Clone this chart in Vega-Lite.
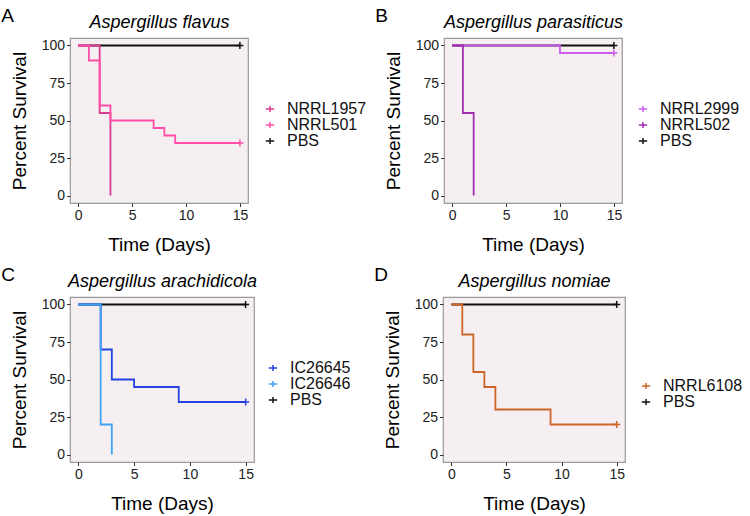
{
  "$schema": "https://vega.github.io/schema/vega-lite/v6.json",
  "padding": {"left": 0, "top": 6, "right": 2, "bottom": 2},
  "data": {
    "values": [
      {"panel": "A", "group": "PBS", "t": 0, "s": 100, "censored": false},
      {"panel": "A", "group": "PBS", "t": 15, "s": 100, "censored": true},
      {"panel": "A", "group": "NRRL1957", "t": 0, "s": 100, "censored": false},
      {"panel": "A", "group": "NRRL1957", "t": 2, "s": 55, "censored": false},
      {"panel": "A", "group": "NRRL1957", "t": 3, "s": 0, "censored": false},
      {"panel": "A", "group": "NRRL501", "t": 0, "s": 100, "censored": false},
      {"panel": "A", "group": "NRRL501", "t": 1, "s": 90, "censored": false},
      {"panel": "A", "group": "NRRL501", "t": 2, "s": 60, "censored": false},
      {"panel": "A", "group": "NRRL501", "t": 3, "s": 50, "censored": false},
      {"panel": "A", "group": "NRRL501", "t": 7, "s": 45, "censored": false},
      {"panel": "A", "group": "NRRL501", "t": 8, "s": 40, "censored": false},
      {"panel": "A", "group": "NRRL501", "t": 9, "s": 35, "censored": false},
      {"panel": "A", "group": "NRRL501", "t": 15, "s": 35, "censored": true},
      {"panel": "B", "group": "PBS", "t": 0, "s": 100, "censored": false},
      {"panel": "B", "group": "PBS", "t": 15, "s": 100, "censored": true},
      {"panel": "B", "group": "NRRL2999", "t": 0, "s": 100, "censored": false},
      {"panel": "B", "group": "NRRL2999", "t": 10, "s": 95, "censored": false},
      {"panel": "B", "group": "NRRL2999", "t": 15, "s": 95, "censored": true},
      {"panel": "B", "group": "NRRL502", "t": 0, "s": 100, "censored": false},
      {"panel": "B", "group": "NRRL502", "t": 1, "s": 55, "censored": false},
      {"panel": "B", "group": "NRRL502", "t": 2, "s": 0, "censored": false},
      {"panel": "C", "group": "PBS", "t": 0, "s": 100, "censored": false},
      {"panel": "C", "group": "PBS", "t": 15, "s": 100, "censored": true},
      {"panel": "C", "group": "IC26645", "t": 0, "s": 100, "censored": false},
      {"panel": "C", "group": "IC26645", "t": 2, "s": 70, "censored": false},
      {"panel": "C", "group": "IC26645", "t": 3, "s": 50, "censored": false},
      {"panel": "C", "group": "IC26645", "t": 5, "s": 45, "censored": false},
      {"panel": "C", "group": "IC26645", "t": 9, "s": 35, "censored": false},
      {"panel": "C", "group": "IC26645", "t": 15, "s": 35, "censored": true},
      {"panel": "C", "group": "IC26646", "t": 0, "s": 100, "censored": false},
      {"panel": "C", "group": "IC26646", "t": 2, "s": 20, "censored": false},
      {"panel": "C", "group": "IC26646", "t": 3, "s": 0, "censored": false},
      {"panel": "D", "group": "PBS", "t": 0, "s": 100, "censored": false},
      {"panel": "D", "group": "PBS", "t": 15, "s": 100, "censored": true},
      {"panel": "D", "group": "NRRL6108", "t": 0, "s": 100, "censored": false},
      {"panel": "D", "group": "NRRL6108", "t": 1, "s": 80, "censored": false},
      {"panel": "D", "group": "NRRL6108", "t": 2, "s": 55, "censored": false},
      {"panel": "D", "group": "NRRL6108", "t": 3, "s": 45, "censored": false},
      {"panel": "D", "group": "NRRL6108", "t": 4, "s": 30, "censored": false},
      {"panel": "D", "group": "NRRL6108", "t": 9, "s": 20, "censored": false},
      {"panel": "D", "group": "NRRL6108", "t": 15, "s": 20, "censored": true}
    ]
  },
  "spacing": 9,
  "resolve": {"scale": {"color": "independent"}, "legend": {"color": "independent"}},
  "vconcat": [
    {
      "spacing": 6,
      "resolve": {"scale": {"color": "independent"}, "legend": {"color": "independent"}},
      "hconcat": [
        {
          "width": 178, "height": 165,
          "title": {"text": "A", "anchor": "start", "frame": "bounds", "fontSize": 19, "fontWeight": "normal", "fontStyle": "normal", "baseline": "alphabetic", "offset": -28, "dx": -9, "color": "#000"},
          "transform": [{"filter": "datum.panel === 'A'"}],
          "encoding": {
            "y": {"field": "s", "type": "quantitative", "title": "Percent Survival", "scale": {"domain": [-5, 105], "nice": false}, "axis": {"values": [0, 25, 50, 75, 100]}},
            "color": {"field": "group", "type": "nominal", "scale": {"domain": ["NRRL1957", "NRRL501", "PBS"], "range": ["#DC3C8F", "#FF4DA8", "#111111"]}, "legend": {"orient": "none", "legendX": 192, "legendY": 63}}
          },
          "layer": [
            {"mark": {"type": "line", "interpolate": "step-after", "strokeWidth": 1.8},
             "encoding": {"x": {"field": "t", "type": "quantitative", "title": "Time (Days)", "scale": {"domain": [-0.75, 15.75], "nice": false, "zero": false}, "axis": {"values": [0, 5, 10, 15], "orient": "bottom"}}}},
            {"transform": [{"filter": "datum.censored"}], "mark": {"type": "point", "shape": "M-1,0H1M0,-1V1", "size": 49, "filled": false, "strokeWidth": 1.5, "opacity": 1},
             "encoding": {"x": {"field": "t", "type": "quantitative", "title": "Aspergillus flavus", "scale": {"domain": [-0.75, 15.75], "nice": false, "zero": false}, "axis": {"orient": "top", "labels": false, "ticks": false, "domain": false, "titleFontStyle": "italic", "titleFontSize": 18, "titleBaseline": "alphabetic", "titlePadding": 11}}}}
          ]
        },
        {
          "width": 178, "height": 165,
          "title": {"text": "B", "anchor": "start", "frame": "bounds", "fontSize": 19, "fontWeight": "normal", "fontStyle": "normal", "baseline": "alphabetic", "offset": -28, "dx": -9, "color": "#000"},
          "transform": [{"filter": "datum.panel === 'B'"}],
          "encoding": {
            "y": {"field": "s", "type": "quantitative", "title": "Percent Survival", "scale": {"domain": [-5, 105], "nice": false}, "axis": {"values": [0, 25, 50, 75, 100]}},
            "color": {"field": "group", "type": "nominal", "scale": {"domain": ["NRRL2999", "NRRL502", "PBS"], "range": ["#CC5CF0", "#A02FB0", "#111111"]}, "legend": {"orient": "none", "legendX": 191, "legendY": 63}}
          },
          "layer": [
            {"mark": {"type": "line", "interpolate": "step-after", "strokeWidth": 1.8},
             "encoding": {"x": {"field": "t", "type": "quantitative", "title": "Time (Days)", "scale": {"domain": [-0.75, 15.75], "nice": false, "zero": false}, "axis": {"values": [0, 5, 10, 15], "orient": "bottom"}}}},
            {"transform": [{"filter": "datum.censored"}], "mark": {"type": "point", "shape": "M-1,0H1M0,-1V1", "size": 49, "filled": false, "strokeWidth": 1.5, "opacity": 1},
             "encoding": {"x": {"field": "t", "type": "quantitative", "title": "Aspergillus parasiticus", "scale": {"domain": [-0.75, 15.75], "nice": false, "zero": false}, "axis": {"orient": "top", "labels": false, "ticks": false, "domain": false, "titleFontStyle": "italic", "titleFontSize": 18, "titleBaseline": "alphabetic", "titlePadding": 11}}}}
          ]
        }
      ]
    },
    {
      "spacing": 21,
      "resolve": {"scale": {"color": "independent"}, "legend": {"color": "independent"}},
      "hconcat": [
        {
          "width": 184, "height": 165,
          "title": {"text": "C", "anchor": "start", "frame": "bounds", "fontSize": 19, "fontWeight": "normal", "fontStyle": "normal", "baseline": "alphabetic", "offset": -28, "dx": -9, "color": "#000"},
          "transform": [{"filter": "datum.panel === 'C'"}],
          "encoding": {
            "y": {"field": "s", "type": "quantitative", "title": "Percent Survival", "scale": {"domain": [-5, 105], "nice": false}, "axis": {"values": [0, 25, 50, 75, 100]}},
            "color": {"field": "group", "type": "nominal", "scale": {"domain": ["IC26645", "IC26646", "PBS"], "range": ["#2442E2", "#3FA2F2", "#111111"]}, "legend": {"orient": "none", "legendX": 195, "legendY": 63}}
          },
          "layer": [
            {"mark": {"type": "line", "interpolate": "step-after", "strokeWidth": 1.8},
             "encoding": {"x": {"field": "t", "type": "quantitative", "title": "Time (Days)", "scale": {"domain": [-0.75, 15.75], "nice": false, "zero": false}, "axis": {"values": [0, 5, 10, 15], "orient": "bottom"}}}},
            {"transform": [{"filter": "datum.censored"}], "mark": {"type": "point", "shape": "M-1,0H1M0,-1V1", "size": 49, "filled": false, "strokeWidth": 1.5, "opacity": 1},
             "encoding": {"x": {"field": "t", "type": "quantitative", "title": "Aspergillus arachidicola", "scale": {"domain": [-0.75, 15.75], "nice": false, "zero": false}, "axis": {"orient": "top", "labels": false, "ticks": false, "domain": false, "titleFontStyle": "italic", "titleFontSize": 18, "titleBaseline": "alphabetic", "titlePadding": 11}}}}
          ]
        },
        {
          "width": 182, "height": 165,
          "title": {"text": "D", "anchor": "start", "frame": "bounds", "fontSize": 19, "fontWeight": "normal", "fontStyle": "normal", "baseline": "alphabetic", "offset": -28, "dx": -9, "color": "#000"},
          "transform": [{"filter": "datum.panel === 'D'"}],
          "encoding": {
            "y": {"field": "s", "type": "quantitative", "title": "Percent Survival", "scale": {"domain": [-5, 105], "nice": false}, "axis": {"values": [0, 25, 50, 75, 100]}},
            "color": {"field": "group", "type": "nominal", "scale": {"domain": ["NRRL6108", "PBS"], "range": ["#CC6526", "#111111"]}, "legend": {"orient": "none", "legendX": 195, "legendY": 81}}
          },
          "layer": [
            {"mark": {"type": "line", "interpolate": "step-after", "strokeWidth": 1.8},
             "encoding": {"x": {"field": "t", "type": "quantitative", "title": "Time (Days)", "scale": {"domain": [-0.75, 15.75], "nice": false, "zero": false}, "axis": {"values": [0, 5, 10, 15], "orient": "bottom"}}}},
            {"transform": [{"filter": "datum.censored"}], "mark": {"type": "point", "shape": "M-1,0H1M0,-1V1", "size": 49, "filled": false, "strokeWidth": 1.5, "opacity": 1},
             "encoding": {"x": {"field": "t", "type": "quantitative", "title": "Aspergillus nomiae", "scale": {"domain": [-0.75, 15.75], "nice": false, "zero": false}, "axis": {"orient": "top", "labels": false, "ticks": false, "domain": false, "titleFontStyle": "italic", "titleFontSize": 18, "titleBaseline": "alphabetic", "titlePadding": 11}}}}
          ]
        }
      ]
    }
  ],
  "config": {
    "font": "Liberation Sans",
    "view": {"stroke": "#9a9a9a", "strokeWidth": 1.2, "fill": "#F5EFF2"},
    "axis": {"grid": false, "domain": false, "tickColor": "#333333", "tickSize": 3.5, "tickWidth": 1, "labelFontSize": 14, "labelColor": "#222222", "labelFont": "Liberation Sans", "titleFont": "Liberation Sans", "titleFontSize": 19, "titleFontWeight": "normal", "titleColor": "#000000", "labelPadding": 2},
    "axisX": {"titlePadding": 13},
    "axisY": {"titlePadding": 12},
    "legend": {"title": null, "labelFontSize": 16, "labelFont": "Liberation Sans", "labelColor": "#111111", "symbolType": "M-1,0H1M0,-0.7V0.7", "symbolSize": 70, "symbolStrokeWidth": 1.5, "labelOffset": 9, "rowPadding": 0, "padding": 0},
    "title": {"font": "Liberation Sans"}
  }
}
